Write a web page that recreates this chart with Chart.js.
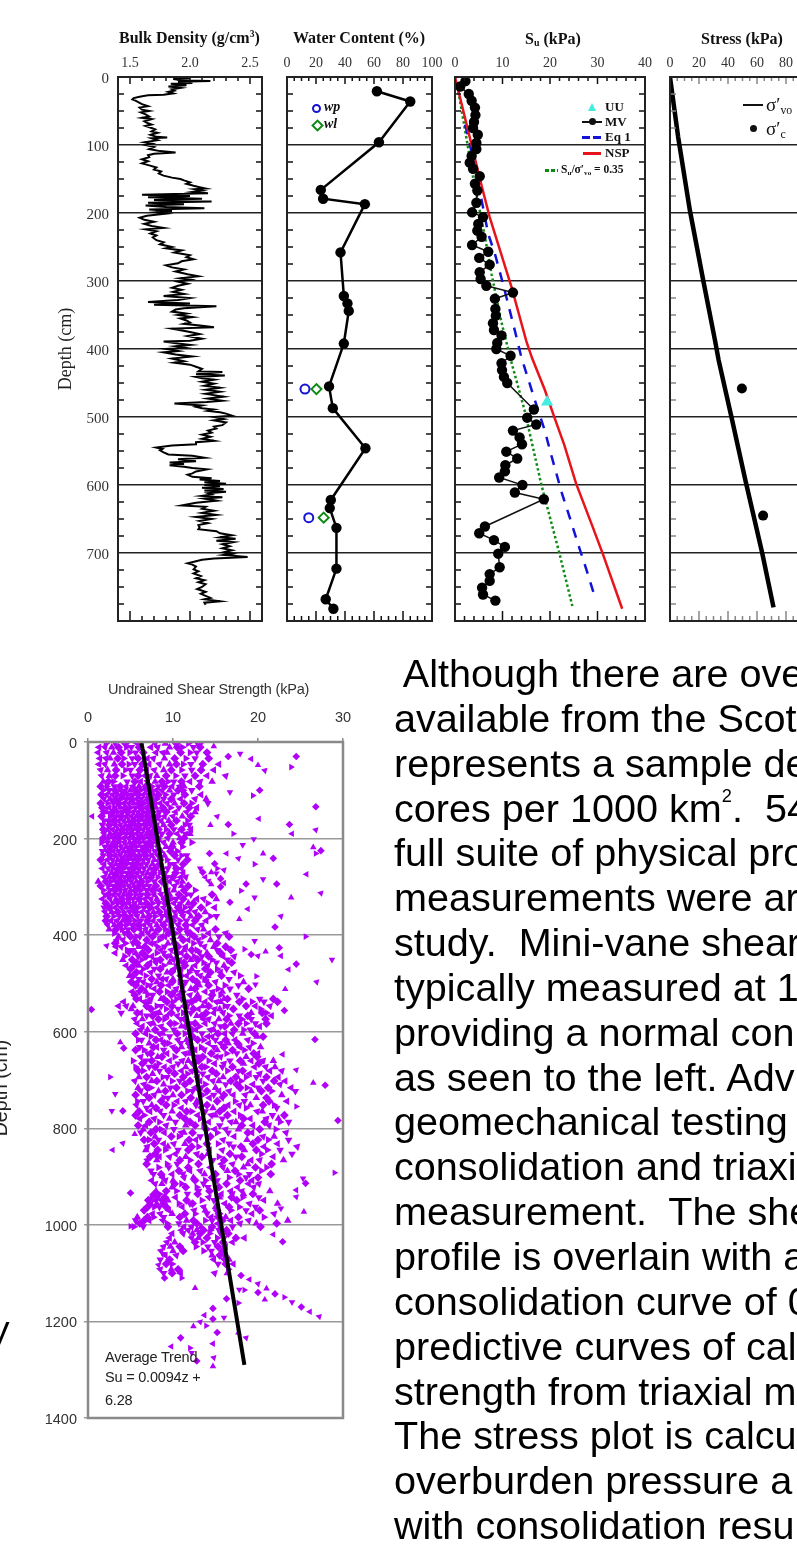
<!DOCTYPE html>
<html>
<head>
<meta charset="utf-8">
<script src="https://cdn.jsdelivr.net/npm/chart.js@4"></script>
<style>
html, body { margin: 0; padding: 0; background: #fff; width: 797px; height: 1550px; overflow: hidden; }
#page { position: absolute; left: 0; top: 0; width: 797px; height: 1550px; overflow: hidden; filter: blur(0.6px); }
canvas { position: absolute; }
.t { position: absolute; white-space: pre; transform: translateY(-50%); color: #111; }
.serif { font-family: "Liberation Serif", serif; }
.sans { font-family: "Liberation Sans", sans-serif; }
.title { font-weight: bold; font-size: 16px; }
.lg { font-weight: bold; font-size: 13px; }
.sub { font-size: .62em; vertical-align: -.25em; line-height: 0; }
.mk { position: absolute; }
#body { position: absolute; left: 394px; top: 651px; font: 39.6px/44.84px "Liberation Sans", sans-serif; white-space: pre; color: #000; }
</style>
</head>
<body>
<div id="page">
  <div class="t serif title" style="left:119px;top:38px">Bulk Density (g/cm<span style="font-size:.6em;vertical-align:.6em;line-height:0">3</span>)</div>
  <div class="t serif title" style="left:293px;top:38px">Water Content (%)</div>
  <div class="t serif title" style="left:525px;top:39px">S<span class="sub">u</span> (kPa)</div>
  <div class="t serif title" style="left:701px;top:39px">Stress (kPa)</div>
  <div class="t serif" style="left:65px;top:349px;font-size:18px;color:#222;transform:translate(-50%,-50%) rotate(-90deg)">Depth (cm)</div>

  <canvas id="c1" style="left:58px;top:47px"></canvas>
  <canvas id="c2" style="left:267px;top:47px"></canvas>
  <canvas id="c3" style="left:435px;top:47px"></canvas>
  <canvas id="c4" style="left:650px;top:47px"></canvas>
  <canvas id="c5" style="left:0;top:700px"></canvas>

  <div class="mk" style="left:312px;top:104px;width:5px;height:5px;border:2px solid #1414d0;border-radius:50%"></div>
  <div class="t serif" style="left:324px;top:107px;font:italic bold 14px 'Liberation Serif'">wp</div>
  <div class="mk" style="left:313px;top:121px;width:5px;height:5px;border:2px solid #0d8a12;transform:rotate(45deg)"></div>
  <div class="t serif" style="left:324px;top:124px;font:italic bold 14px 'Liberation Serif'">wl</div>

  <div class="mk" style="left:588px;top:103px;width:0;height:0;border-left:4px solid transparent;border-right:4px solid transparent;border-bottom:8px solid #45ece0"></div>
  <div class="t serif lg" style="left:605px;top:107px">UU</div>
  <div class="mk" style="left:582px;top:121px;width:20px;height:2px;background:#111"></div>
  <div class="mk" style="left:589px;top:118px;width:7px;height:7px;border-radius:50%;background:#111"></div>
  <div class="t serif lg" style="left:605px;top:122px">MV</div>
  <div class="mk" style="left:582px;top:136px;width:19px;height:2.5px;background:repeating-linear-gradient(90deg,#1212d8 0 8px,transparent 8px 11px)"></div>
  <div class="t serif lg" style="left:605px;top:137px">Eq 1</div>
  <div class="mk" style="left:583px;top:152px;width:18px;height:2.5px;background:#e8141c"></div>
  <div class="t serif lg" style="left:605px;top:153px">NSP</div>
  <div class="mk" style="left:545px;top:169px;width:13px;height:2.5px;background:repeating-linear-gradient(90deg,#0d8a12 0 4px,transparent 4px 6px)"></div>
  <div class="t serif lg" style="left:561px;top:169px;font-size:11.5px">S<span class="sub">u</span>/σ′<span class="sub">vo</span> = 0.35</div>

  <div class="mk" style="left:743px;top:104px;width:20px;height:2px;background:#111"></div>
  <div class="t serif" style="left:766px;top:105px;font-size:19px">σ′<span class="sub">vo</span></div>
  <div class="mk" style="left:750px;top:125px;width:7px;height:7px;border-radius:50%;background:#111"></div>
  <div class="t serif" style="left:766px;top:129px;font-size:19px">σ′<span class="sub">c</span></div>

  <div class="t sans" style="left:108px;top:689px;font-size:14.5px;color:#333;letter-spacing:-.2px">Undrained Shear Strength (kPa)</div>
  <div class="t sans" style="left:0;top:1088px;font-size:19.5px;color:#222;transform:translate(-50%,-50%) rotate(-90deg)">Depth (cm)</div>
  <div class="t sans" style="left:105px;top:1357px;font-size:14.5px;color:#222;letter-spacing:-.2px">Average Trend</div>
  <div class="t sans" style="left:105px;top:1377px;font-size:14.5px;color:#222;letter-spacing:-.2px">Su = 0.0094z +</div>
  <div class="t sans" style="left:105px;top:1400px;font-size:14.5px;color:#222;letter-spacing:-.2px">6.28</div>
  <div class="t sans" style="left:-13px;top:1333px;font-size:34px;color:#000">V</div>

  <div id="body"> Although there are ove
available from the Scot
represents a sample de
cores per 1000 km<span style="font-size:.46em;vertical-align:1.08em;line-height:0">2</span>.  54
full suite of physical pro
measurements were ar
study.  Mini-vane shear
typically measured at 1
providing a normal con
as seen to the left. Adv
geomechanical testing
consolidation and triaxi
measurement.  The she
profile is overlain with a
consolidation curve of 0
predictive curves of cal
strength from triaxial m
The stress plot is calcu
overburden pressure a
with consolidation resu</div>
</div>

<script>
// depth (cm) axis shared by the four top panels
var depthLines = [0, 100, 200, 300, 400, 500, 600, 700];
var depthMinor = [25, 50, 75, 125, 150, 175, 225, 250, 275, 325, 350, 375, 425, 450, 475, 525, 550, 575, 625, 650, 675, 725, 750, 775];

// bulk density log
var bulkDepth = [0,2,3,5,6,7,9,10,12,14,16,18,20,22,24,26,27,29,31,33,35,38,40,43,45,48,50,52,55,58,60,62,65,68,70,72,75,77,80,82,85,88,89,90,93,96,98,100,103,106,109,111,113,115,118,121,124,127,130,133,136,139,142,145,148,150,152,155,157,160,162,164,165,167,169,171,173,175,177,179,181,183,185,187,189,191,193,195,197,199,201,204,207,210,213,216,219,222,224,227,230,233,236,240,243,246,250,252,255,258,262,265,268,271,274,277,280,283,286,290,293,296,298,301,304,307,310,313,316,319,322,325,328,331,333,335,337,340,342,345,348,350,353,355,358,361,363,366,368,370,375,378,381,385,388,389,392,394,396,398,400,403,405,408,411,414,418,420,423,426,429,433,434,437,439,441,443,445,448,451,454,457,460,463,466,470,473,476,478,480,483,485,487,489,491,493,495,498,500,503,505,508,512,514,517,520,523,526,529,532,535,537,540,542,545,547,549,552,555,557,560,562,565,567,569,571,573,575,577,580,583,585,588,590,592,594,596,598,600,602,604,606,608,610,612,614,616,618,620,623,626,630,632,635,638,641,644,647,650,653,656,659,662,665,668,671,674,677,679,682,684,687,690,693,696,699,701,703,706,708,710,712,715,717,720,724,727,730,734,737,740,743,746,750,753,757,760,763,766,768,771,773,776];
var bulkDensity = [1.88,2.0,1.86,1.95,2.17,1.9,2.02,1.84,1.97,1.82,1.92,1.85,1.87,1.82,1.86,1.78,1.65,1.58,1.53,1.52,1.55,1.58,1.6,1.65,1.58,1.6,1.66,1.59,1.63,1.66,1.6,1.68,1.62,1.65,1.68,1.63,1.68,1.71,1.68,1.73,1.67,1.72,1.81,1.68,1.73,1.62,1.68,1.63,1.7,1.66,1.75,1.88,1.7,1.65,1.66,1.6,1.65,1.6,1.66,1.72,1.7,1.76,1.74,1.78,1.85,1.92,1.95,2.0,1.97,2.03,2.08,2.13,2.04,2.1,2.02,2.15,1.6,2.0,1.65,2.1,1.7,2.18,1.65,1.95,1.63,1.8,2.12,1.66,1.85,1.72,1.8,1.64,1.58,1.62,1.7,1.62,1.68,1.78,1.63,1.72,1.67,1.72,1.69,1.72,1.78,1.75,1.85,1.8,1.93,1.87,2.0,1.97,2.03,1.93,1.9,1.8,1.85,1.95,1.88,1.98,2.07,1.92,2.0,1.9,1.98,1.9,1.85,1.93,1.86,1.95,1.78,2.0,1.9,1.65,2.0,1.7,2.22,1.95,1.88,1.85,1.97,1.9,2.02,1.92,1.97,2.0,1.95,2.12,2.2,1.85,2.0,2.08,1.98,2.1,2.0,1.78,1.9,2.0,1.88,1.95,1.8,1.9,1.78,1.88,2.02,1.85,1.95,1.87,2.0,2.05,2.1,2.07,2.27,2.05,2.29,2.05,2.1,2.2,2.1,2.2,2.12,2.25,2.13,2.25,2.13,2.28,2.15,2.27,2.14,1.87,2.1,2.05,2.1,2.2,2.15,2.25,2.3,2.35,2.2,2.28,2.2,2.3,2.27,2.2,2.22,2.15,2.18,2.1,2.17,2.1,2.2,2.05,2.05,1.85,1.72,1.77,1.75,1.78,1.82,2.02,2.12,1.9,2.05,1.83,1.95,1.83,1.95,2.02,2.14,2.05,2.02,1.98,2.02,2.18,2.08,2.25,2.12,2.3,2.12,2.25,2.1,2.28,2.12,2.3,2.15,2.18,2.1,2.27,2.12,2.22,2.05,1.93,2.13,2.1,2.2,2.1,2.22,2.05,2.18,2.08,2.15,2.07,2.08,2.07,2.22,2.25,2.35,2.25,2.38,2.22,2.36,2.27,2.33,2.27,2.35,2.28,2.35,2.28,2.48,2.2,2.1,2.05,1.98,2.02,2.05,2.03,2.07,2.03,2.09,2.05,2.12,2.07,2.13,2.1,2.06,2.13,2.09,2.13,2.17,2.12,2.25,2.12,2.13];

// water content
var waterDepth = [21,36,96,166,179,187,258,322,333,344,392,455,487,546,622,634,663,723,768,782];
var waterValue = [62,85,63.4,23.3,24.9,53.7,36.9,39.2,41.7,42.6,39.2,29,31.6,54.1,30.2,29.5,34.1,34.1,26.7,32];
var wpDepth = [459, 648];
var wpValue = [12.4, 15];
var wlDepth = [459, 648];
var wlValue = [20.3, 25.3];

// Su panel
var mvDepth = [6,14,25,35,45,56,66,75,85,97,106,116,126,135,146,157,167,185,199,206,216,226,235,247,257,266,276,287,297,307,317,326,341,351,362,372,380,391,400,410,421,431,441,450,489,501,511,520,530,540,551,561,571,580,589,600,611,621,661,671,681,691,701,721,731,741,751,761,770];
var mvValue = [2.2,1.1,2.9,3.5,4.2,4.3,4.0,3.8,4.8,4.5,4.5,3.5,3.1,3.8,5.2,4.2,4.7,4.5,3.6,5.9,4.9,4.7,5.6,3.6,7,5.1,7.3,5.2,5.4,6.6,12.2,8.4,8.5,8.6,8,8.2,9.8,8.9,8.7,11.7,9.8,9.9,10.3,11,16.6,15.2,17.1,12.2,13.6,14.1,10.8,13.1,10.6,10.5,9.3,14.2,12.6,18.7,6.3,5.1,8.2,10.5,9.1,9.4,7.3,7.3,5.7,5.9,8.5];
var uuDepth = [478];
var uuValue = [19.4];
var nspDepth = [0,157,206,309,388,413,460,502,541,598,662,701,782];
var nspValue = [0,5.5,7.3,11.9,15,16.2,18.9,21,23,25.5,29,31.1,35.2];
var eq1Depth = [70,88,167,231,260,304,373,413,475,520,557,612,651,691,723,768];
var eq1Value = [2.1,2.8,5.2,7,8.4,10.1,12.6,14,16.8,18.9,20.3,22.5,24.3,26.1,27.6,29.6];
var ratioDepth = [0,21,110,147,235,290,361,415,489,600,701,778];
var ratioValue = [0,0.7,2.9,3.8,6.3,7.7,9.8,11.7,14.6,18.2,22,24.7];

// stress panel
var stressDepth = [0,88,196,300,388,416,504,593,701,780];
var stressValue = [0,5.6,13.7,23,31.1,33.5,42.8,52,63.7,71.4];
var consolDepth = [458, 645];
var consolValue = [49.6, 64.2];

// bottom chart: mini-vane cloud, one row per depth, [depth, su, su, ...]
var shearRows = [
[3,2.1,3.2,4.4,5.8,7.9,9.1,10.4,11.8,12.9,13.1],
[11,1.3,2,2.8,3.6,4.5,5.1,6,7.4,8.2,9.6,10.5,11.1,12.4,13.2],
[22,1.2,2.2,3,3.9,4.9,5.6,6.5,8,8.8,9.3,10.9,12,12.8,14],
[34,1.4,2.1,2.6,3.5,4.2,5.2,5.9,7,7.7,9,10.2,11.5,12.6,14.2],
[46,1.3,2,3.1,4,4.8,5.5,6.4,7.2,8.4,9.6,10.4,11.2,12.1,13.5,15.4],
[58,1.5,2.3,3.3,4.4,5,6.1,6.9,7.8,8.9,9.8,11,12.2,13.3,14.8],
[70,1.6,2.5,3.2,4.1,5.2,5.9,6.7,7.3,8.1,9.2,10.3,11.4,12.6,14,16.2],
[82,1.8,2.4,3,4.6,5.5,6.2,7,7.9,8.7,9.4,10.1,11,12,13.2,14.6],
[92,1.5,2.2,3.1,3.8,4.5,5.3,6,6.8,7.5,8.3,9,9.9,10.8,11.3,13.1],
[100,1.8,2.5,3.2,3.8,4.4,5,5.6,6.2,6.8,7.4,8,8.7,9.6,10.6,11.2,12.2],
[109,1.6,2.2,2.9,3.5,4.1,4.7,5.3,5.9,6.5,7.1,7.7,8.3,9.1,10.1,11.4,13.3],
[118,1.9,2.6,3.3,3.9,4.5,5.1,5.7,6.3,6.9,7.5,8.1,8.9,9.8,10.9,12.6,13.9],
[127,1.5,2.3,3,3.6,4.2,4.8,5.4,6,6.6,7.2,7.8,8.5,9.3,10.2,11.3,12.2,14.1],
[136,1.7,2.5,3.2,3.8,4.4,5,5.6,6.2,6.8,7.4,8,8.8,9.7,10.7,11.9,12.8],
[145,1.8,2.2,2.9,3.5,4.1,4.7,5.3,5.9,6.5,7.1,7.7,8.4,9.2,10.3,11.6,12.6],
[154,1.6,2.6,3.3,3.9,4.5,5.1,5.7,6.3,6.9,7.5,8.2,9,10,11.1,12.1],
[163,1.9,2.4,3,3.6,4.2,4.8,5.4,6,6.6,7.2,7.9,8.6,9.5,10.4,11.7],
[172,1.7,2.5,3.2,3.8,4.4,5,5.6,6.2,6.8,7.4,8.1,8.9,9.8,11.4,11.9],
[181,1.8,2.3,2.9,3.5,4.1,4.7,5.3,5.9,6.5,7.1,7.7,8.3,9.2,10.1,11,12.1],
[190,1.9,2.6,3.3,3.9,4.5,5.1,5.7,6.3,6.9,7.5,8,8.7,9.6,10.5,11.5,12],
[199,1.8,2.4,3,3.6,4.2,4.8,5.4,6,6.6,7.2,7.8,8.4,9.4,10.8,11.3],
[208,1.6,2.3,3.1,3.7,4.3,4.9,5.5,6.1,6.7,7.3,8,8.9,10,11,12.2],
[217,2,2.7,3.3,3.9,4.5,5.1,5.7,6.3,6.9,7.5,8.2,9.2,9.9,11.1],
[226,1.7,2.4,3,3.6,4.2,4.8,5.4,6,6.6,7.2,7.9,8.6,9.7,10.5],
[235,1.8,2.6,3.2,3.8,4.4,5,5.6,6.2,6.8,7.5,8.2,9,10.2,11,11.6],
[244,1.5,2.3,2.9,3.5,4.1,4.7,5.3,5.9,6.5,7.1,7.8,8.5,9.3,10.6,11.7],
[253,1.9,2.7,3.3,3.9,4.5,5.1,5.7,6.3,6.9,7.6,8.4,9.6,10.1,11.2],
[262,1.7,2.4,3,3.6,4.2,4.8,5.4,6,6.6,7.3,7.9,8.7,9.4,10.4,11],
[271,2.1,2.8,3.4,4,4.6,5.2,5.8,6.4,7,7.7,8.5,9.1,10.3,11.2],
[280,1.9,2.5,3.1,3.7,4.3,4.9,5.5,6.1,6.8,7.4,8.2,9.3,10,10.9,11.5],
[289,1.2,2.1,2.7,3.3,3.9,4.5,5.1,5.7,6.3,7,7.8,8.7,9.6,10.5,11.1],
[298,1.5,2.4,3,3.6,4.2,4.8,5.4,6,6.6,7.2,8,9.2,10.2,11,11.8],
[307,1.8,2.6,3.2,3.8,4.4,5,5.6,6.2,6.9,7.6,8.4,9.4,10.1,11.3,12.6],
[316,2,2.4,3,3.6,4.2,4.9,5.6,6.3,7,7.8,8.6,9.6,10.7,11.6,12.1,14.6],
[325,1.7,2.6,3.3,4,4.7,5.3,6,6.7,7.4,8.1,9,9.8,10.4,11.2,12.8,13.6,15.1],
[334,2.1,2.9,3.5,4.1,4.8,5.5,6.2,6.9,7.6,8.3,9.1,10.1,10.9,11.8,12.4,14.1],
[343,1.9,2.5,3.2,3.9,4.5,5.2,5.9,6.6,7.3,8.1,8.9,9.6,10.6,11.4,12.1,13.3,14.9],
[352,2,2.8,3.5,4.2,4.9,5.6,6.3,7,7.7,8.4,9.2,10.2,11,11.8,12.6,13.8],
[361,2.2,3,3.7,4.4,5.1,5.8,6.5,7.2,7.9,8.7,9.4,10.3,11.2,12.1,13,14.4,15.1],
[370,2.1,2.7,3.4,4.1,4.8,5.5,6.2,7,7.7,8.5,9.3,10,10.8,11.6,12.6,13.9],
[379,2.3,3.1,3.8,4.5,5.2,5.9,6.6,7.3,8.1,8.9,9.7,10.6,11.5,12.3,13.4],
[388,2.5,3.3,4,4.7,5.4,6.1,6.8,7.5,8.3,9.1,9.9,10.8,11.6,12.9,13.6,15],
[396,3.1,4.3,4.7,6.4,7.1,7.9,9.5,10.3,11.7,12,14.2,16.2],
[403,3.6,5,5.7,6.1,7.6,8.7,9.1,10.9,12.5,13.6,15.4,16.6],
[410,3.4,4.1,5.5,6.9,8.4,10,11.2,11.8,13,14.4],
[417,3.2,4.4,5.3,5.8,7.4,7.8,9.4,10.2,12.4,13.2,15.2],
[424,3.3,3.9,6,6.7,8.2,9,10.6,11.5,13.7,14.8,16.2],
[431,4.6,5.2,7.1,8.6,9.8,11.3,12.2,12.8,15.2,16.8],
[437,3.2,4.8,5.6,6.4,8.1,8.9,10.5,11,13.1,14,15.6],
[444,4.3,5.9,6.8,7.5,9.2,9.7,11.6,12.5,13.4,14.2,15.9,17.2],
[451,4.1,5.2,6.3,7.9,8.5,10,10.8,12.1,12.9,14.6,16.4],
[457,5.7,7.3,8,9.6,11.3,13.6,15.1,16.9],
[463,4.5,5.4,6,7,8.9,10.4,11.4,12.6,14.1,16],
[470,5,6.5,7.8,8.5,10.1,11,12.2,13.8,15.2,16.3],
[477,5.7,6.2,7.4,9.3,9.8,11.9,12.8,14.4,15.6,17.2],
[484,4.9,5.3,6.8,8.3,10.9,11.6,13.2,14.1,15.7,17.9],
[491,6,7.5,8.7,9.2,10,12.3,13.7,16.6],
[497,5.1,5.8,6.5,8.1,9.9,10.8,11.5,12.8,14,15,18.3],
[504,5.6,7,7.3,8.6,9.5,11.2,13.1,14.2,16.1,17.7],
[511,6.3,7.8,10.4,12.1,12.6,15.3,16.7,18.9],
[517,5.2,6,6.8,8.4,9.3,10.2,11.1,13.8,14.7,15.8],
[524,5.5,7,7.6,9.8,10.7,12,12.9,14.6,15.6,17.5],
[532,5.7,6.1,7.4,8.6,8.9,10.4,11,12.7,13.1,14.5,16,16.4,18.2,20.2,21.8],
[538,4.2,6.6,7.1,9.3,10,11.6,12.2,13.8,15.1,15.6,17.8,19.3,20.7,22.3],
[547,3.6,4.5,5.3,6.9,8.1,8.6,9.9,11.3,11.7,13.5,14.2,16.1,16.4,18.6,19.7,21.4],
[553,5.1,7.4,9.2,10.6,12.4,13,14.9,15.5,17.1,20.3],
[561,3.9,5.8,6.2,8,8.4,9.8,11.2,12.1,13.9,14.8,15.9,19.2,20.5,21],
[567,6.9,7.6,9.3,10.5,12.8,13.4,16.6,17.8,18.8,21.6],
[574,5.5,6.4,8.3,9,10.9,11.4,13.6,14.2,15.4,16.3,18.1,19.2,20.9],
[583,5.8,7.3,7.7,9.7,10.3,12,12.6,13.8,14.9,16.8,17.7,18.6,19.7,21],
[589,6.4,8.6,11,11.5,13.1,15.6,16.1,20.2],
[596,6.2,7,7.9,9,10.1,12.2,12.7,14.4,14.8,17.2,18.3,19.1],
[604,5.6,6.8,8.4,8.8,10.5,11.4,13.4,15.3,16.1,17,18.2,19.6],
[610,7.4,9.6,12.3,14.1,14.6,19.9,20.6],
[617,5.9,6.3,8,8.6,10.6,11.6,12.9,13.6,15,16.2,17.3,18.8],
[624,7.2,9,9.5,10.9,11.9,14.2,15.6,16.5,17.6,19.4],
[632,6.1,7.7,8.1,10,11,12.1,13.3,14.8,16,17.9,19,20.3],
[638,5.6,6.6,8.9,10.4,12.6,13.7,15.2,17,18.4],
[645,7,7.4,9.3,11.4,11.9,14.5,16.3,17.5,19.5,20],
[652,6.2,8.2,8.7,10.2,12.9,13.5,15.1,15.6,18.6,19.9],
[660,5.3,6.8,7.5,9.6,11.1,11.8,13,14.2,16.7,17.9,19.2,20.6,21.8],
[666,6.4,8.3,10.6,12.4,14.9,16,18.3,20.1],
[673,5.6,7.2,7.9,9,10,11.5,13.4,13.9,15.8,17,19.6,20.9,22],
[681,5.9,6.5,8.4,9.5,11,12.2,12.8,14.6,16.4,17.7,18.2,21.4,22.8],
[687,7.6,10.2,11.7,13.5,15.1,19,20.2],
[694,6,6.9,8.8,9.3,11.2,12.9,14.1,15.9,17.4,18.6,19.8,21,22.4],
[702,5.5,7.5,8.1,9.9,10.8,12,13.2,14.7,15.4,16.8,18,20.6,21.9,23.2],
[709,6.6,8.9,11.4,13.8,16.2,17.5,19.4,22.6],
[716,5.9,7,7.4,9.7,10.4,12.6,13.3,15,17.9,18.7,20,21.2,23.9],
[723,6.2,8.3,9.1,11.7,12.3,14,15.4,16.6,19.2,20.4,21.6,24.4],
[731,5.6,6.8,7.8,10,11,13.5,14.8,16,17.1,18.5,22.8],
[737,7.2,8.9,9.4,12.1,14.3,15.8,19.8,21],
[744,5.8,6.5,8.6,10.5,11.5,12.8,15.2,17.3,18.4,21.3,23.4],
[752,5.7,7.5,9.2,10.1,12.7,14,16.5,17.8,19.1,20.6,21.9],
[758,6.9,8,11,13.3,14.7,16,18.6,22.2],
[765,6,7.3,8.5,9.9,11.6,12.2,13.8,15.5,17.2,19.9,20.5],
[773,5.6,6.6,8.9,10.8,12.9,14.5,15,16.4,17.9,21.7,23.1],
[780,6.1,7.8,9.6,11.4,13.2,15.8,18.3,19.1,21,22.4],
[787,7.2,8.4,10.3,12,14.2,16.8,17.4,20.8,22.6,23.6],
[794,5.9,6.8,9.2,11.5,12.6,13.6,15.5,18.1,19.4,21.3],
[802,6.5,8,8.6,10.1,13.9,14.9,16.2,17.7,20.2,22.1],
[809,6.2,7.4,9,11,11.3,12.3,15.2,16.5,18.8,19.3,23.3],
[817,7.9,9.8,10.7,13.2,14.4,17.2,20.6,21.9],
[824,6.6,7.2,8.3,11.9,12.7,15.9,18.7,20,21.2,23.6],
[832,7.8,8.9,10.1,11.4,14,15.3,16.6,19.4,22.3],
[838,7,9.4,12.2,13,17.1,18,20.7,24.6],
[845,6.8,8.2,9.1,10.6,11.8,14.3,15.8,18.4,19.8,21.1,22.6],
[853,7.9,10.3,12.8,14.1,16.7,20.4,24],
[859,7.3,8.4,9.6,11.5,13.4,15.4,17.4,18.1,21.8],
[866,7,8.1,10.8,12,14.7,16,19.2,20.2,23],
[874,6.9,9.3,10.5,13,15.7,17,18.8,21.6],
[881,8.3,9.5,11.8,14.4,15.9,18.3,19.7,21],
[888,7.4,10.7,12,13.2,16.4,17.3,20.4],
[895,7.7,8.6,9.9,11.2,13.7,15,17.7,19,21.5],
[902,8.8,11.3,12.4,14.6,16.6,18.6,20],
[908,7.5,9.1,10,12.6,13.8,15.2,17.9,19.3],
[915,7.9,8.7,10.2,11,13.6,16.3,18.9,20.1],
[922,9.9,11.5,12.8,14.1,15.4,17.6,19.5],
[930,8,9.2,10.4,13,14.3,16.8,18.1,21.4],
[936,7.8,8.4,11.7,12.9,15.7,17,18.3,19.4],
[943,7.5,8.2,9,10.3,14.2,15.5,16.9,18.2,20.1],
[949,7.1,7.9,8.6,9.4,11.6,13.4,14.8,17.5,20.7],
[956,7.4,8.1,8.9,10.7,12,12.3,16.1,19,22.3],
[963,7,7.8,8.4,9.2,11.1,13.6,15,16.6,17.8,19.7],
[970,6.6,9.5,12.5,13.8,15.2,16.8,18.6,20.2],
[977,7.6,8.5,9.9,11.4,12.6,14,15.4,19.3,21.9],
[984,5.8,7,7.7,8.9,10.8,14.5,15.2,16.2,17.7,20.7],
[991,5.6,6.6,7.2,8.8,11.6,12.4,13.8,14.6,15.8,16.8,18.9,23.5],
[997,6.1,9.3,10.7,12.8,15.3,17.9,19.8,22.2],
[1004,5.4,6.5,9.4,11.3,12.2,13.3,14.6,15.5,17,20.3],
[1011,11,11.8,12.8,13.6,14.4,15.4,16.3],
[1018,9.9,11.2,12.3,13.2,14.3,15.6,16.5],
[1027,9.6,12.2,13,14,15.2,16,17.4,18.4],
[1036,9.3,10.2,12.6,13.5,14.9,15.9,17],
[1045,8.9,9.7,10.8,12.7,14.1,15.3,16.2],
[1054,8.6,10,11.2,13.6,14.5,15.8],
[1063,9.1,10.4,14.6,15.5,16.1],
[1072,8.5,9.6,14.8,16,16.6],
[1081,9.2,9.9,15.3,16.2,17.1],
[1092,8.5,9.8,10.6,16.5],
[1100,8.9,9.9,10.9,14.9,16.4]
];

// scattered points away from the main cloud
var shearSparseSu = [14.8,24.5,23.9,17.9,16.5,19.2,20.8,20,20.2,19.4,16.7,26.8,20.1,15.2,14.4,16.5,17.1,19.5,23.7,24,26.8,26.5,27.4,26.8,18.2,14.3,16.3,17.7,20.6,21.8,19.6,20.6,22.2,25.7,27.4,23.9,18.6,18,19.6,16.7,18.8,22.7,17.8,22,25.6,28.7,24.5,23.6,26.9,23.2,23.1,19.8,19.7,22.5,22.7,20,20.9,19.2,18.4,19.6,0.4,0.5,2.2,3.8,4.2,2.6,3.2,26.7,22.9,24.5,26.5,27.9,24.5,2.8,4.1,2.9,4.1,5.5,29.4,29,25.3,25.6,24.5,24.5,25.4,5,5,22.7,22.9,21.8,8.3,12.6,9,11,8.8,18,19,20,21,22,23.1,24,25.1,26.1,27.2,20.8,20,18.4,17.8,14.7,13.7,13.2,12.4,14.7,13.9,16,15.2,14.7,14.8,14.7,12.8,12,12.2,10.9,9.8,18.6,17.7,16.3,17.7,13.2,13.5,13.8,14.2,14.5,14.9,15.2,15.1,15.6,16,16,14.5,15.6];
var shearSparseDepth = [9,30,52,24,30,35,59,48,100,111,104,134,159,154,172,171,190,201,171,190,182,218,225,231,213,231,231,241,231,241,253,284,294,274,313,322,294,308,322,332,346,361,367,383,403,451,460,471,497,512,556,485,502,426,443,443,434,440,429,412,554,154,422,622,634,694,729,616,647,679,706,711,755,764,764,845,831,812,784,892,904,914,928,942,973,934,1003,966,1035,1020,1083,1131,1110,1110,1060,1105,1113,1122,1132,1143,1150,1160,1170,1180,1190,1155,1140,1135,1134,1173,1187,1201,1210,1195,1209,1192,1223,1246,1275,1293,1282,1255,1265,1234,1252,1234,1223,1153,1162,262,270,280,288,295,252,262,272,283,292,265,270,300];

var trendDepth = [0, 1290];
var trendValue = [6.28, 18.4];

function toPoints(xs, ys) {
    return xs.map(function(x, i) { return { x: x, y: ys[i] }; });
}

var shearPoints = toPoints(shearSparseSu, shearSparseDepth);
shearRows.forEach(function(row) {
    row.slice(1).forEach(function(su) { shearPoints.push({ x: su, y: row[0] }); });
});

// short inward ticks and the box round the plot
var boxPlugin = {
    id: 'box',
    afterDatasetsDraw: function(chart, args, opts) {
        var ctx = chart.ctx, a = chart.chartArea;
        var x = chart.scales.x, y = chart.scales.y;
        ctx.save();
        ctx.strokeStyle = opts.tickColor || '#111';
        ctx.lineWidth = 1.5;
        ctx.beginPath();
        (opts.xMinor || []).forEach(function(v) {
            var p = x.getPixelForValue(v);
            ctx.moveTo(p, a.top); ctx.lineTo(p, a.top + 4);
            ctx.moveTo(p, a.bottom); ctx.lineTo(p, a.bottom - 5);
        });
        (opts.xMajor || []).forEach(function(v) {
            var p = x.getPixelForValue(v);
            ctx.moveTo(p, a.top); ctx.lineTo(p, a.top + 7);
            ctx.moveTo(p, a.bottom); ctx.lineTo(p, a.bottom - 10);
        });
        (opts.yMinor || []).forEach(function(v) {
            var p = y.getPixelForValue(v);
            ctx.moveTo(a.left, p); ctx.lineTo(a.left + 6, p);
            ctx.moveTo(a.right, p); ctx.lineTo(a.right - 6, p);
        });
        ctx.stroke();
        ctx.strokeStyle = opts.color || '#222';
        ctx.lineWidth = opts.width || 2;
        ctx.strokeRect(a.left, a.top, a.right - a.left, a.bottom - a.top);
        ctx.restore();
    }
};
Chart.register(boxPlugin);

function depthPanel(id, w, left, xOpts, datasets, showDepth) {
    var canvas = document.getElementById(id);
    canvas.width = w;
    canvas.height = 598;
    canvas.style.width = w + 'px';
    canvas.style.height = '598px';
    return new Chart(canvas, {
        type: 'scatter',
        data: { datasets: datasets },
        options: {
            responsive: false,
            animation: false,
            layout: { padding: { right: 20, bottom: 24 } },
            plugins: {
                legend: { display: false },
                tooltip: { enabled: false },
                box: { xMinor: xOpts.minor, xMajor: xOpts.major, yMinor: depthMinor, tickColor: xOpts.tickColor }
            },
            scales: {
                x: {
                    position: 'top', min: xOpts.min, max: xOpts.max,
                    grid: { display: false, drawTicks: false },
                    border: { display: false },
                    afterFit: function(s) { s.height = 30; },
                    afterBuildTicks: function(s) { s.ticks = xOpts.major.map(function(v) { return { value: v }; }); },
                    ticks: {
                        padding: 5, maxRotation: 0, autoSkip: false, color: '#333',
                        font: { family: 'Liberation Serif', size: 14 },
                        callback: xOpts.format
                    }
                },
                y: {
                    reverse: true, min: 0, max: 800,
                    border: { display: false },
                    grid: { color: '#222', lineWidth: 1.5, drawTicks: false },
                    afterFit: function(s) { s.width = left; },
                    afterBuildTicks: function(s) { s.ticks = depthLines.map(function(v) { return { value: v }; }); },
                    ticks: {
                        display: showDepth, padding: 9, autoSkip: false, color: '#333', labelOffset: 2,
                        font: { family: 'Liberation Serif', size: 15 }
                    }
                }
            }
        }
    });
}

depthPanel('c1', 224, 60, {
    min: 1.4, max: 2.6, major: [1.5, 2, 2.5],
    minor: [1.6, 1.7, 1.8, 1.9, 2.1, 2.2, 2.3, 2.4],
    format: function(v) { return v.toFixed(1); }
}, [
    { data: toPoints(bulkDensity, bulkDepth), showLine: true, borderColor: '#000', borderWidth: 2, pointRadius: 0 }
], true);

depthPanel('c2', 185, 20, {
    min: 0, max: 100, major: [0, 20, 40, 60, 80, 100],
    minor: [5, 10, 15, 25, 30, 35, 45, 50, 55, 65, 70, 75, 85, 90, 95]
}, [
    { data: toPoints(waterValue, waterDepth), showLine: true, borderColor: '#000', borderWidth: 2.5, pointRadius: 5.2, pointBackgroundColor: '#000', pointBorderWidth: 0 },
    { data: toPoints(wpValue, wpDepth), pointRadius: 4.5, pointBackgroundColor: 'transparent', pointBorderColor: '#1414d0', pointBorderWidth: 2 },
    { data: toPoints(wlValue, wlDepth), pointStyle: 'rectRot', pointRadius: 5, pointBackgroundColor: 'transparent', pointBorderColor: '#0d8a12', pointBorderWidth: 2 }
], false);

depthPanel('c3', 230, 20, {
    min: 0, max: 40, major: [0, 10, 20, 30, 40],
    minor: [2, 4, 6, 8, 12, 14, 16, 18, 22, 24, 26, 28, 32, 34, 36, 38]
}, [
    { data: toPoints(mvValue, mvDepth), showLine: true, borderColor: '#111', borderWidth: 1.5, pointRadius: 5.2, pointBackgroundColor: '#000', pointBorderWidth: 0, order: 0 },
    { data: toPoints(uuValue, uuDepth), pointStyle: 'triangle', pointRadius: 7, pointBackgroundColor: '#45ece0', pointBorderWidth: 0, order: 1 },
    { data: toPoints(eq1Value, eq1Depth), showLine: true, borderColor: '#1212d8', borderWidth: 2.5, borderDash: [10, 9], pointRadius: 0, order: 3 },
    { data: toPoints(nspValue, nspDepth), showLine: true, borderColor: '#e8141c', borderWidth: 2.5, pointRadius: 0, order: 2 },
    { data: toPoints(ratioValue, ratioDepth), showLine: true, borderColor: '#0d8a12', borderWidth: 2.5, borderDash: [2.5, 2.5], pointRadius: 0, order: 4 }
], false);

depthPanel('c4', 185, 20, {
    min: 0, max: 100, major: [0, 20, 40, 60, 80, 100], tickColor: '#888',
    minor: [5, 10, 15, 25, 30, 35, 45, 50, 55, 65, 70, 75, 85, 90, 95]
}, [
    { data: toPoints(stressValue, stressDepth), showLine: true, borderColor: '#000', borderWidth: 4.5, pointRadius: 0 },
    { data: toPoints(consolValue, consolDepth), pointRadius: 5, pointBackgroundColor: '#000', pointBorderWidth: 0 }
], false);

var shearMarks = ['triangle', 'rectRot', 'triangle', 'triangle', 'rectRot', 'triangle', 'triangle'];
var shearTurns = [0, 0, 90, 180, 0, 270, 45];
var cv = document.getElementById('c5');
cv.width = 375;
cv.height = 742;
cv.style.width = '375px';
cv.style.height = '742px';
new Chart(cv, {
    type: 'scatter',
    data: {
        datasets: [
            { data: toPoints(trendValue, trendDepth), showLine: true, borderColor: '#000', borderWidth: 4, pointRadius: 0, order: 0 },
            {
                data: shearPoints, order: 1, pointBorderWidth: 0, pointBackgroundColor: '#b000fa',
                pointRadius: function(c) { return c.dataIndex < shearSparseSu.length ? 3.8 : 4.4; },
                pointStyle: function(c) { return shearMarks[c.dataIndex % shearMarks.length]; },
                pointRotation: function(c) { return shearTurns[c.dataIndex % shearTurns.length]; }
            }
        ]
    },
    options: {
        responsive: false,
        animation: false,
        layout: { padding: { right: 32, bottom: 24 } },
        plugins: {
            legend: { display: false },
            tooltip: { enabled: false },
            box: { color: '#8a8a8a', width: 2.5 }
        },
        scales: {
            x: {
                position: 'top', min: 0, max: 30,
                border: { display: false },
                grid: { drawOnChartArea: false, color: '#8a8a8a', lineWidth: 1.5, tickLength: 4 },
                afterFit: function(s) { s.height = 42; },
                ticks: { stepSize: 10, padding: 11, color: '#333', maxRotation: 0, font: { family: 'Liberation Sans', size: 14.5 } }
            },
            y: {
                reverse: true, min: 0, max: 1400,
                border: { display: false },
                grid: { color: '#9a9a9a', lineWidth: 1.5, tickLength: 4 },
                afterFit: function(s) { s.width = 88; },
                ticks: {
                    stepSize: 200, padding: 7, color: '#333', labelOffset: 2,
                    font: { family: 'Liberation Sans', size: 14.5 },
                    callback: function(v) { return String(v); }
                }
            }
        }
    }
});
</script>
</body>
</html>
